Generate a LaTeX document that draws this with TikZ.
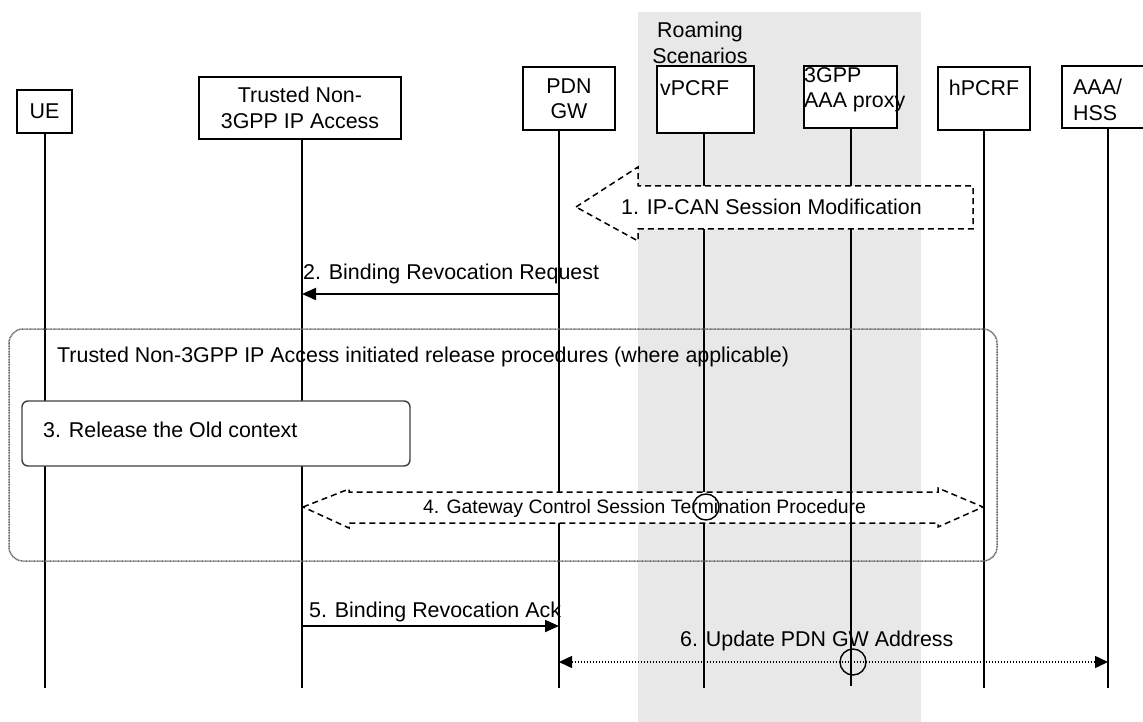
\documentclass[tikz,border=0pt]{standalone}
\usepackage{fontspec}
\setmainfont{Liberation Sans}
\usetikzlibrary{arrows.meta}
\definecolor{roam}{RGB}{232,232,232}
\definecolor{framegray}{RGB}{100,100,100}
\begin{document}
\begin{tikzpicture}[x=1pt,y=-1pt,
  font=\fontsize{21.4}{25.5}\selectfont,
  actor/.style={draw, line width=1.3pt, fill=white, inner sep=0pt},
  life/.style={line width=1.2pt},
  lbl/.style={inner sep=0pt, anchor=west, text height=15.3pt, text depth=0pt},
  mlbl/.style={inner sep=0pt, align=center},
  msg/.style={line width=2pt, -{Triangle[length=14pt,width=12pt]}},
  dotmsg/.style={line width=1.5pt, dash pattern=on 1.5pt off 1.5pt,
     {Triangle[length=13pt,width=12pt]}-{Triangle[length=13pt,width=12pt]}},
  bigarrow/.style={draw, fill=white, line width=1.5pt, dash pattern=on 6pt off 4pt},
  cross/.style={draw, line width=1.4pt, circle, minimum size=26pt, inner sep=0pt},
  smallfont/.style={font=\fontsize{19.4}{23}\selectfont}
]
\useasboundingbox (0,0) rectangle (1143,722);

% roaming region
\fill[roam] (638,12) rectangle (921,722);
\node[mlbl] (roamtxt) at (700,43) {Roaming\\Scenarios};

% actors
\node[actor, minimum width=55pt, minimum height=43pt] (ue) at (44.5,111.5) {UE};
\node[actor, minimum width=202pt, minimum height=62pt, align=center] (tna) at (300,108) {Trusted Non-\\3GPP IP Access};
\node[actor, minimum width=92pt, minimum height=63pt, align=center] (pdn) at (569,98.5) {PDN\\GW};
\node[actor, minimum width=97pt, minimum height=67pt] (vp) at (705.5,99.5) {};
\node[actor, minimum width=93pt, minimum height=62pt] (aaa) at (850.5,97) {};
\node[actor, minimum width=92pt, minimum height=63pt] (hp) at (984,98.5) {};
\node[actor, minimum width=93pt, minimum height=62pt] (hss) at (1108.5,97) {};
\node[lbl] (vptxt) at (660,88) {vPCRF};
\node[inner sep=0pt, anchor=west, align=left] (aaatxt) at (804,90) {3GPP\\AAA proxy};
\node[lbl, anchor=center] (hptxt) at (984,88) {hPCRF};
\node[inner sep=0pt, anchor=west, align=left] (hsstxt) at (1073,100) {AAA/\\HSS};

% lifeline x positions
\coordinate (xue) at (45,0);
\coordinate (xtna) at (302,0);
\coordinate (xpdn) at (559,0);
\coordinate (xvp) at (704,0);
\coordinate (xaaa) at (851,0);
\coordinate (xhp) at (984,0);
\coordinate (xhss) at (1108,0);
\coordinate (bot) at (0,688);

\draw[life] (xue |- ue.south) -- (xue |- bot);
\draw[life] (xtna |- tna.south) -- (xtna |- bot);
\draw[life] (xpdn |- pdn.south) -- (xpdn |- bot);
\draw[life] (xvp |- vp.south) -- (xvp |- bot);
\draw[life] (xhp |- hp.south) -- (xhp |- bot);
\draw[life] (xhss |- hss.south) -- (xhss |- bot);
\draw[life] (xaaa |- aaa.south) -- (xaaa |- 0,186);

% 1. IP-CAN Session Modification
\draw[bigarrow] (576,207) -- (638,167) -- (638,186) -- (973,186) -- (973,229)
   -- (638,229) -- (638,241) -- cycle;
\node[lbl] (m1) at (621,207) {1. IP-CAN Session Modification};
\draw[life] (xaaa |- 0,229) -- (xaaa |- 0,485);

% 2. Binding Revocation Request
\coordinate (y2) at (0,294);
\draw[msg] (xpdn |- y2) -- (xtna |- y2);
\node[lbl] (m2) at (303,272) {2. Binding Revocation Request};

% frame
\draw[framegray, line width=1.5pt, dash pattern=on 1pt off 0.6pt, rounded corners=14pt] (9,329) rectangle (997,561);
\node[lbl] (frametxt) at (57,355) {Trusted Non-3GPP IP Access initiated release procedures (where applicable)};

% 3. Release the Old context
\draw[draw=black!75, fill=white, line width=1.4pt, rounded corners=6pt] (22,401) rectangle (410,466);
\node[lbl] (m3) at (43,430) {3. Release the Old context};

% 4. Gateway Control Session Termination Procedure
\draw[bigarrow] (303,507) -- (349,489) -- (349,492) -- (938,492) -- (938,488) -- (983,507)
   -- (938,527) -- (938,523) -- (349,523) -- (349,528) -- cycle;
\node[lbl, smallfont, text height=13.9pt] (m4) at (423,507) {4. Gateway Control Session Termination Procedure};
\node[cross] (c4) at (706,507) {};
\draw[life] (xaaa |- 0,485) -- (xaaa |- 0,686);

% 5. Binding Revocation Ack
\coordinate (y5) at (0,626);
\draw[msg] (xtna |- y5) -- (xpdn |- y5);
\node[lbl] (m5) at (309,610) {5. Binding Revocation Ack};

% 6. Update PDN GW Address
\coordinate (y6) at (0,662);
\draw[dotmsg] (xpdn |- y6) -- (xhss |- y6);
\node[lbl] (m6) at (680,639) {6. Update PDN GW Address};
\node[cross] (c6) at (853,662) {};
\end{tikzpicture}
\end{document}
